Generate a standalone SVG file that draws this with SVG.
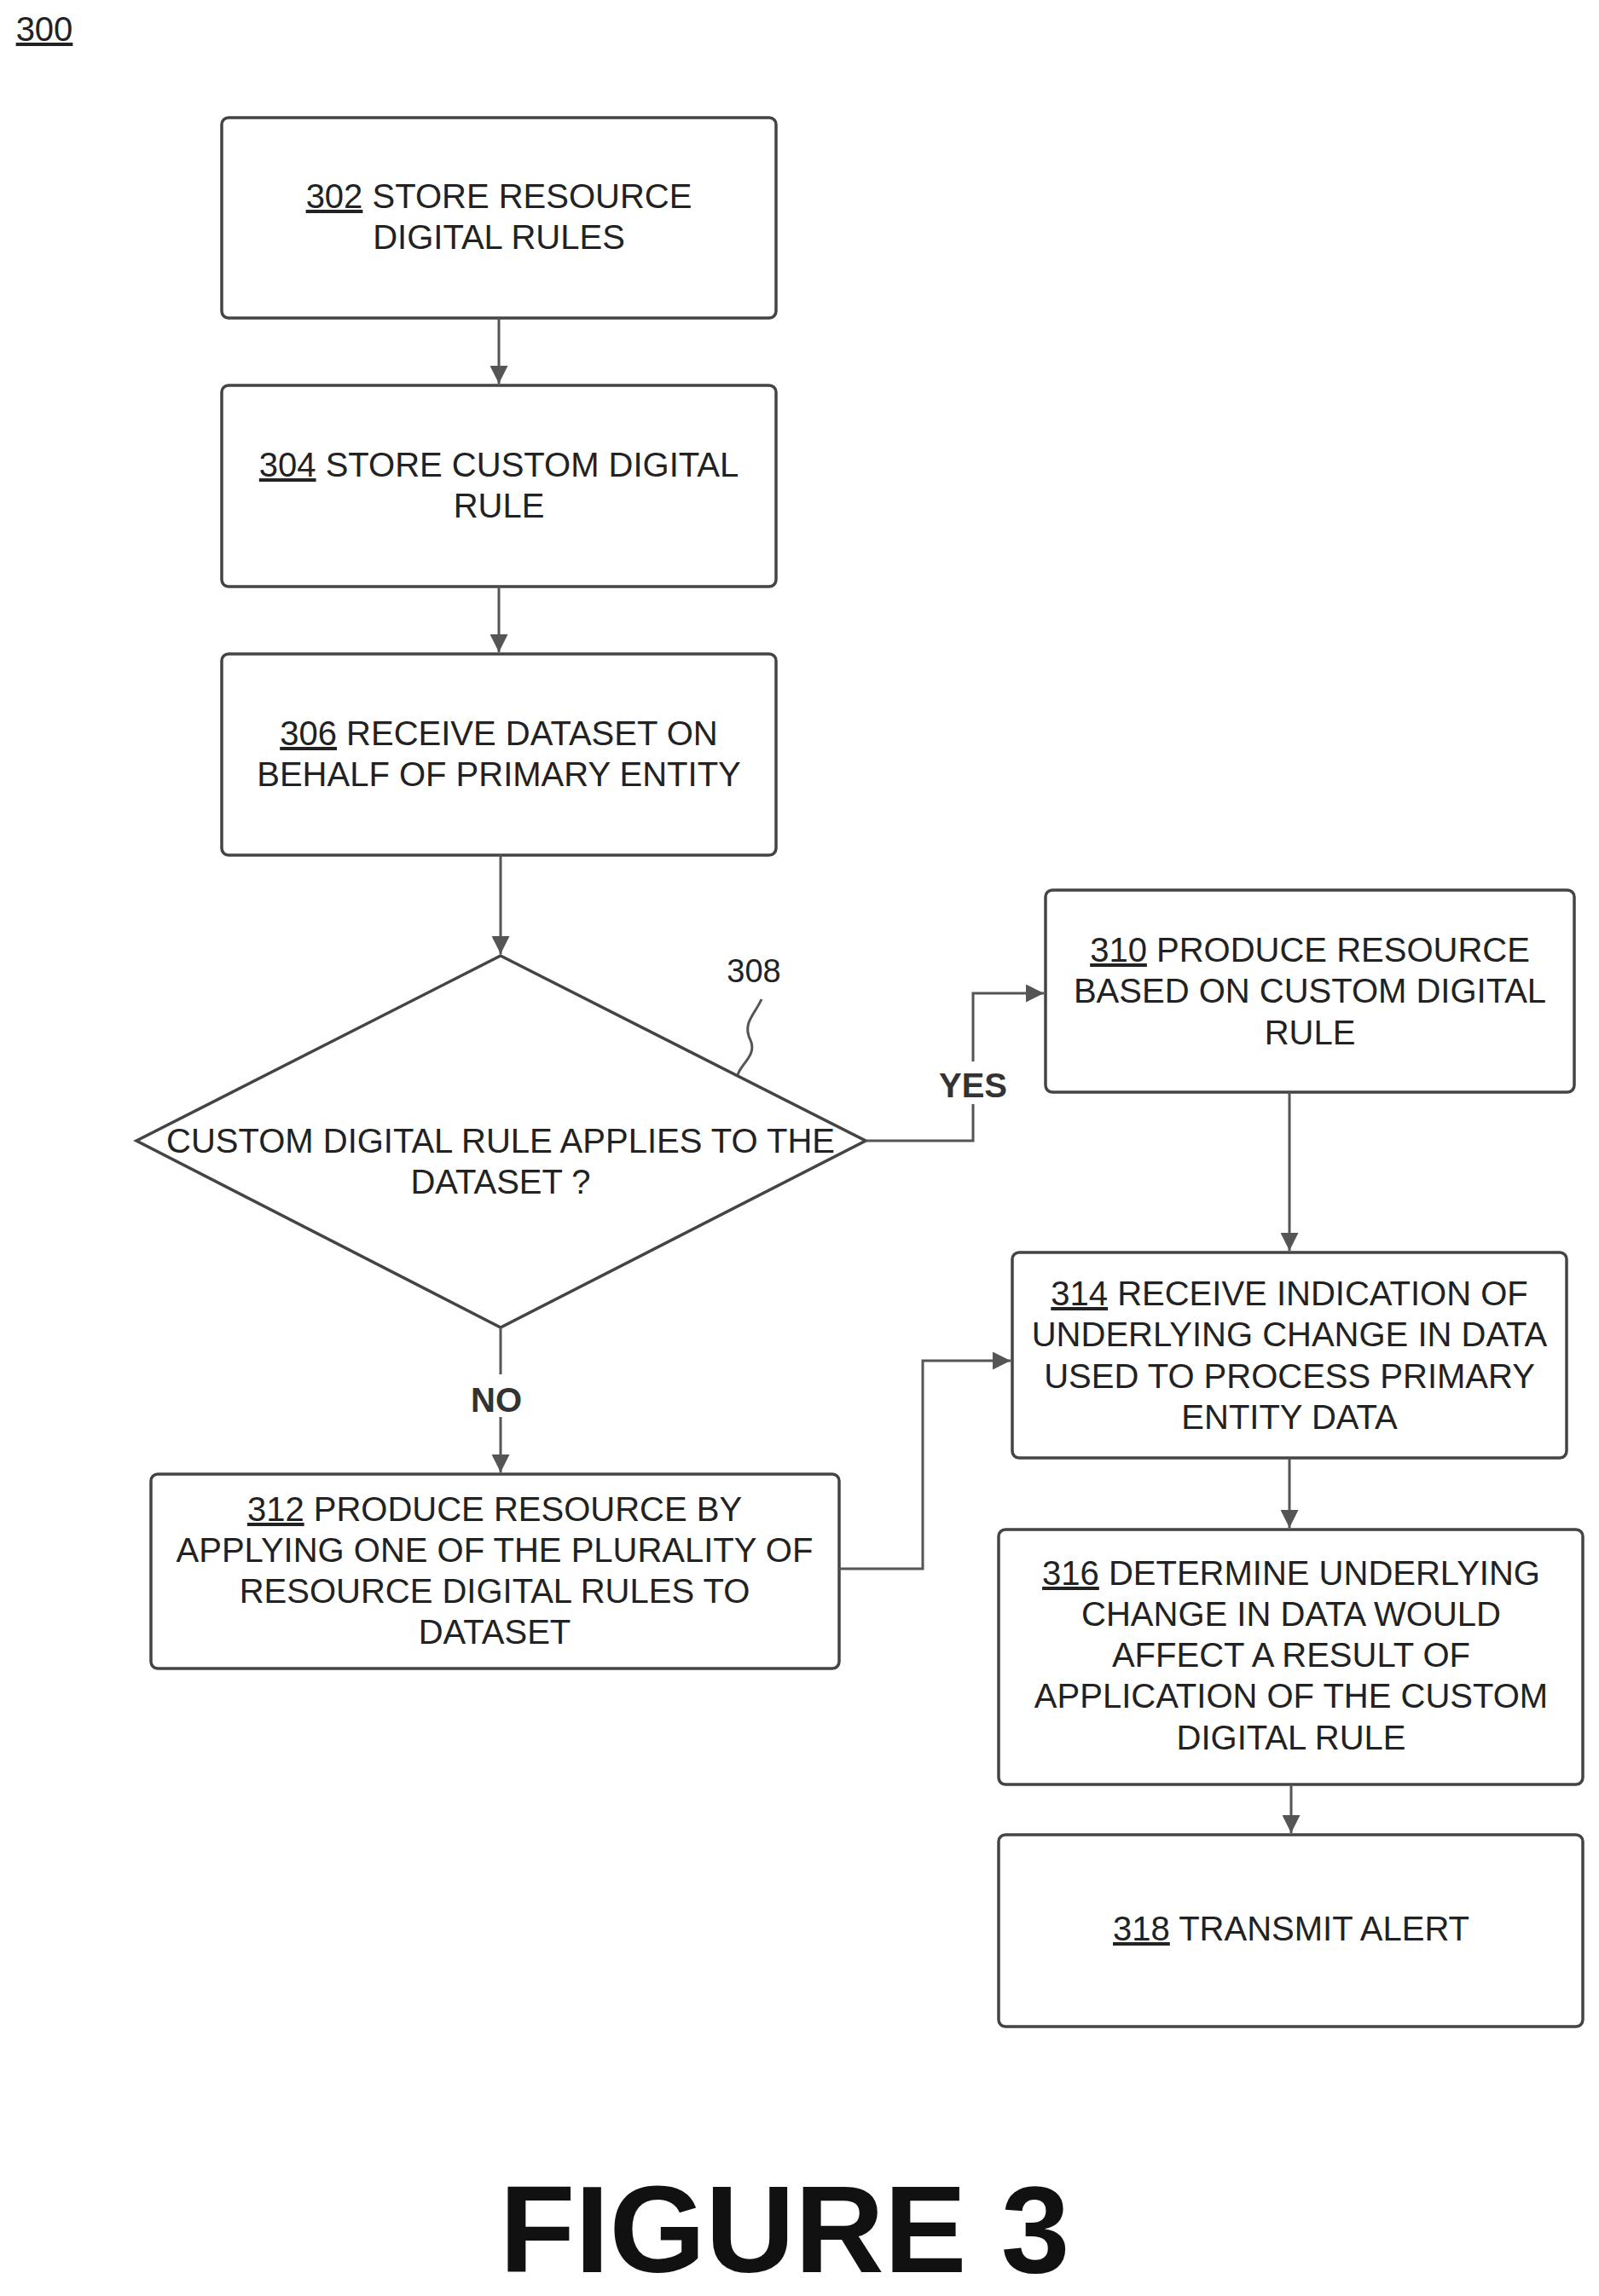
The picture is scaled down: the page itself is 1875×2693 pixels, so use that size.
<svg xmlns="http://www.w3.org/2000/svg" width="1875" height="2693" viewBox="0 0 1875 2693">
<defs>
<style>
.b{fill:#fff;stroke:#444;stroke-width:3.5}
.t{font-family:"Liberation Sans",Arial,sans-serif;font-size:40px;fill:#222;text-anchor:middle}
.u{text-decoration:underline}
.c{fill:none;stroke:#555;stroke-width:3}
.l{font-family:"Liberation Sans",Arial,sans-serif;font-weight:bold;font-size:40px;fill:#333;text-anchor:middle}
</style>
<marker id="a" viewBox="0 0 10 10" refX="10" refY="5" markerWidth="7" markerHeight="7" orient="auto"><path d="M0,0L10,5L0,10z" fill="#555"/></marker>
</defs>
<rect width="1875" height="2693" fill="#fff"/>
<text x="52" y="48" class="t u" style="text-anchor:middle">300</text>
<g id="n302"><rect class="b" x="260" y="138" width="650" height="235" rx="8"/><text class="t" x="585" y="244"><tspan class="u">302</tspan>  STORE RESOURCE</text><text class="t" x="585" y="292">DIGITAL RULES</text></g>
<g id="n304"><rect class="b" x="260" y="452" width="650" height="236" rx="8"/><text class="t" x="585" y="559"><tspan class="u">304</tspan>   STORE CUSTOM DIGITAL</text><text class="t" x="585" y="607">RULE</text></g>
<g id="n306"><rect class="b" x="260" y="767" width="650" height="236" rx="8"/><text class="t" x="585" y="874"><tspan class="u">306</tspan>  RECEIVE DATASET ON</text><text class="t" x="585" y="922">BEHALF OF PRIMARY ENTITY</text></g>
<g id="n308"><path class="b" d="M587,1121L1015,1338L587,1557L160,1338Z"/><text class="t" x="587" y="1352">CUSTOM DIGITAL RULE APPLIES TO THE</text><text class="t" x="587" y="1400">DATASET ?</text><text class="t" x="884" y="1152" style="font-size:38px">308</text><path class="c" d="M893,1172C885,1190 870,1200 880,1220C888,1238 868,1248 865,1261"/></g>
<g id="n310"><rect class="b" x="1226" y="1044" width="620" height="237" rx="8"/><text class="t" x="1536" y="1128"><tspan class="u">310</tspan>  PRODUCE RESOURCE</text><text class="t" x="1536" y="1176">BASED ON CUSTOM DIGITAL</text><text class="t" x="1536" y="1225">RULE</text></g>
<g id="n314"><rect class="b" x="1187" y="1469" width="650" height="241" rx="8"/><text class="t" x="1512" y="1531"><tspan class="u">314</tspan>  RECEIVE INDICATION OF</text><text class="t" x="1512" y="1579">UNDERLYING CHANGE IN DATA</text><text class="t" x="1512" y="1628">USED TO PROCESS PRIMARY</text><text class="t" x="1512" y="1676">ENTITY DATA</text></g>
<g id="n312"><rect class="b" x="177" y="1729" width="807" height="228" rx="8"/><text class="t" x="580" y="1784"><tspan class="u">312</tspan>  PRODUCE RESOURCE BY</text><text class="t" x="580" y="1832">APPLYING ONE OF THE PLURALITY OF</text><text class="t" x="580" y="1880">RESOURCE DIGITAL RULES TO</text><text class="t" x="580" y="1928">DATASET</text></g>
<g id="n316"><rect class="b" x="1171" y="1794" width="685" height="299" rx="8"/><text class="t" x="1514" y="1859"><tspan class="u">316</tspan>  DETERMINE UNDERLYING</text><text class="t" x="1514" y="1907">CHANGE IN DATA WOULD</text><text class="t" x="1514" y="1955">AFFECT A RESULT OF</text><text class="t" x="1514" y="2003">APPLICATION OF THE CUSTOM</text><text class="t" x="1514" y="2052">DIGITAL RULE</text></g>
<g id="n318"><rect class="b" x="1171" y="2152" width="685" height="225" rx="8"/><text class="t" x="1514" y="2276"><tspan class="u">318</tspan>  TRANSMIT ALERT</text></g>
<g id="connectors">
<path class="c" marker-end="url(#a)" d="M585,373V450"/>
<path class="c" marker-end="url(#a)" d="M585,688V765"/>
<path class="c" marker-end="url(#a)" d="M587,1003V1119"/>
<path class="c" marker-end="url(#a)" d="M1015,1338H1141V1165H1224"/>
<path class="c" marker-end="url(#a)" d="M587,1557V1727"/>
<path class="c" marker-end="url(#a)" d="M1512,1281V1467"/>
<path class="c" marker-end="url(#a)" d="M984,1840H1082V1596H1185"/>
<path class="c" marker-end="url(#a)" d="M1512,1710V1792"/>
<path class="c" marker-end="url(#a)" d="M1514,2093V2150"/>
<rect x="1098" y="1245" width="86" height="50" fill="#fff"/>
<text class="l" x="1141" y="1287">YES</text>
<rect x="546" y="1612" width="72" height="50" fill="#fff"/>
<text class="l" x="582" y="1656">NO</text>
</g>
<text x="920" y="2665" style="font-family:'Liberation Sans',Arial,sans-serif;font-weight:bold;font-size:145px;fill:#111;text-anchor:middle">FIGURE 3</text>
</svg>
